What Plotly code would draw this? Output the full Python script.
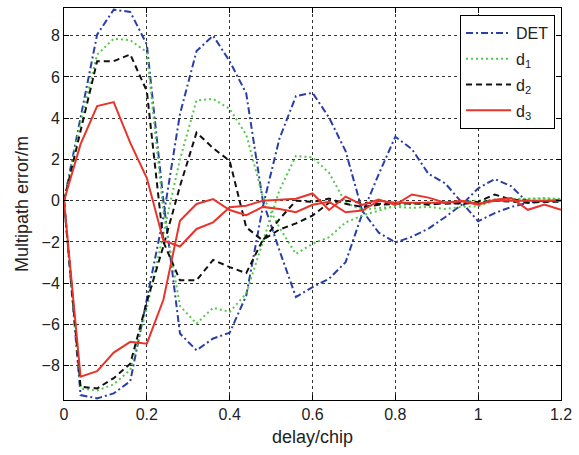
import plotly.graph_objects as go

delay = [round(i * 0.04, 2) for i in range(31)]

det_a = [0, 4.1, 8.05, 9.26, 9.15, 7.57, 0.0, -6.44, -7.25, -6.68, -6.4, -4.6, -0.3, 3.0, 5.07, 5.23,
         4.03, 2.4, -0.48, -1.55, -2.02, -1.75, -1.35, -0.8, -0.2, 0.6, 1.05, 0.7, -0.1, 0.0, 0.05]
det_b = [0, -9.42, -9.58, -9.34, -8.75, -4.8, -0.8, 4.2, 7.25, 8.0, 6.76, 5.2, 0.0, -2.4, -4.67, -4.19,
         -3.78, -2.98, -0.64, 1.29, 3.1, 2.5, 1.3, 0.85, -0.1, -1.0, -0.6, -0.3, -0.1, 0.0, 0.0]
d1_a = [0, 3.8, 7.08, 7.85, 7.78, 7.2, -0.5, -5.1, -5.96, -5.19, -5.39, -4.5, -2.0, 0.5, 2.17, 2.1,
        1.35, -0.1, -0.45, -0.35, -0.3, -0.35, -0.3, -0.4, -0.3, -0.27, 0.0, 0.05, 0.1, 0.13, 0.08]
d1_b = [0, -9.1, -9.2, -8.9, -8.2, -5.2, -1.6, 2.0, 4.86, 4.94, 4.45, 3.2, 0.2, -1.3, -2.58, -2.09,
        -1.77, -1.05, -0.72, -0.48, -0.24, -0.15, -0.15, -0.1, -0.05, 0.0, 0.05, 0.1, 0.1, 0.1, 0.05]
d2_a = [0, 3.4, 6.76, 6.76, 7.09, 5.31, -2.0, -3.86, -3.86, -2.87, -3.22, -3.51, -1.9, -1.4, -1.1, -0.72,
        -0.1, 0.0, -0.1, -0.15, -0.1, -0.15, -0.1, -0.15, -0.1, -0.05, 0.3, 0.05, 0.0, -0.05, -0.05]
d2_b = [0, -9.02, -9.1, -8.6, -7.9, -4.9, -2.2, 0.7, 3.3, 2.55, 1.93, -1.29, -1.93, -0.9, 0.0, -0.06,
        0.1, -0.15, -0.3, -0.2, -0.15, -0.1, -0.2, -0.1, -0.15, -0.1, 0.0, -0.05, -0.1, -0.05, 0.0]
d3_a = [0, 2.74, 4.59, 4.78, 2.8, 1.1, -1.93, -2.22, -1.37, -1.05, -0.32, -0.24, 0.0, 0.05, 0.1, 0.35,
        -0.45, 0.2, -0.2, 0.05, -0.2, 0.3, 0.15, -0.1, -0.03, -0.19, 0.05, 0.13, -0.44, -0.19, -0.44]
d3_b = [0, -8.53, -8.26, -7.36, -6.84, -6.93, -4.8, -0.97, -0.16, 0.08, -0.45, -0.7, -0.3, -0.4, -0.56, -0.2,
        -0.05, -0.56, -0.48, 0.0, -0.1, -0.1, -0.1, -0.1, 0.0, -0.15, 0.0, 0.0, 0.0, 0.0, 0.0]

series = [
    ("DET", det_a, det_b, "#2a3ea8", "7px,3px,2px,3px"),
    ("d<sub>1</sub>", d1_a, d1_b, "#55c94a", "2px,3px"),
    ("d<sub>2</sub>", d2_a, d2_b, "#111111", "6px,4px"),
    ("d<sub>3</sub>", d3_a, d3_b, "#e8352b", "solid"),
]

x_ticks = [0, 0.2, 0.4, 0.6, 0.8, 1.0, 1.2]
x_tick_labels = ["0", "0.2", "0.4", "0.6", "0.8", "1", "1.2"]
y_ticks = [-8, -6, -4, -2, 0, 2, 4, 6, 8]

fig = go.Figure()
for name, a, b, color, dash in series:
    for k, ys in enumerate((a, b)):
        fig.add_trace(go.Scatter(
            x=delay, y=ys, mode="lines", name=name, legendgroup=name,
            showlegend=(k == 0),
            line=dict(color=color, width=2, dash=dash),
        ))

axis_common = dict(
    showline=True, linecolor="black", linewidth=1, mirror="ticks",
    ticks="inside", ticklen=5, tickcolor="black",
    showgrid=True, gridcolor="#333333", gridwidth=1, griddash="3px,3px",
    zeroline=False, tickfont=dict(size=16, color="#222222"),
)

fig.update_layout(
    width=579, height=455,
    margin=dict(l=64, r=15, t=7, b=55),
    paper_bgcolor="white", plot_bgcolor="white",
    font=dict(family="Liberation Sans, Arial, sans-serif", color="#222222"),
    xaxis=dict(range=[0, 1.2], tickvals=x_ticks, ticktext=x_tick_labels,
               title=dict(text="delay/chip", font=dict(size=18), standoff=8), **axis_common),
    yaxis=dict(range=[-9.66, 9.34], tickvals=y_ticks,
               title=dict(text="Multipath error/m", font=dict(size=18), standoff=8), **axis_common),
    legend=dict(x=0.988, y=0.982, xanchor="right", yanchor="top",
                bgcolor="white", bordercolor="black", borderwidth=1,
                font=dict(size=16), itemwidth=45, tracegroupgap=2),
    showlegend=True,
)

fig.write_html("out.html")
